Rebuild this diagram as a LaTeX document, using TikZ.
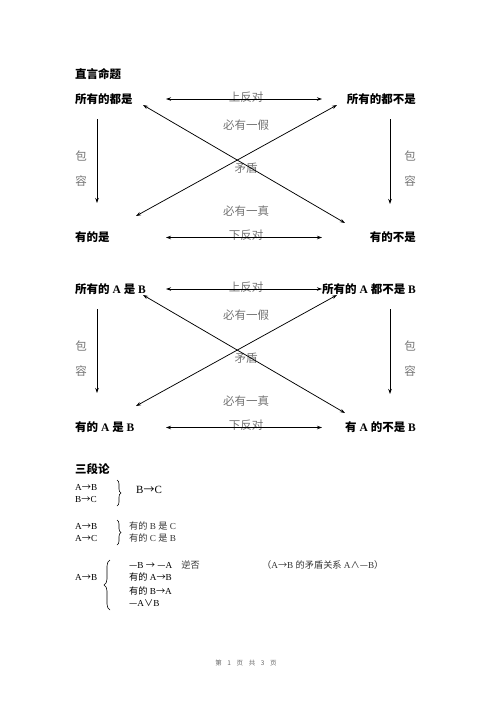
\documentclass[tikz,border=0pt]{standalone}
\usepackage{fontspec}
\setmainfont{Liberation Serif}
\newfontfamily\cjk{Noto Sans CJK SC}
\newcommand\zh[1]{{\cjk #1}}
\usetikzlibrary{arrows.meta,decorations.pathreplacing}

\begin{document}
\begin{tikzpicture} [x=1pt,y=-1pt,
    lbl/.style={font=\fontsize{11.5}{12}\selectfont\bfseries,inner sep=0},
    rel/.style={font=\cjk\fontsize{11.5}{12}\selectfont,text=black!55,inner sep=0},
    dbl/.style={{Stealth[length=5pt,width=3.5pt]}-{Stealth[length=5pt,width=3.5pt]},line width=0.75pt},
    incl/.style={-{Stealth[length=5pt,width=3.5pt]},line width=0.75pt},
    syl/.style={font=\fontsize{9.2}{11}\selectfont,inner sep=0,anchor=west},
    brc/.style={decorate,decoration={brace,amplitude=4pt},line width=0.6pt}]
    \useasboundingbox (0,0) rectangle (496,702);
    \node[lbl,anchor=west] (title1) at (75,74) {\zh{直言命题}};
    \foreach \r/\tl/\tr/\bl/\br in {99/{\zh{所有的都是}}/{\zh{所有的都不是}}/{\zh{有的是}}/{\zh{有的不是}},
        289/{\zh{所有的} A \zh{是} B}/{\zh{所有的} A \zh{都不是} B}/{\zh{有的} A \zh{是} B}/{\zh{有} A \zh{的不是} B}}{%
        \node[lbl,anchor=west] (tl\r) at (75,\r) {\tl};
        \node[lbl,anchor=east] (tr\r) at (416,\r) {\tr};
        \node[lbl,anchor=west] (bl\r) at (75,\r+138.5) {\bl};
        \node[lbl,anchor=east] (br\r) at (416,\r+138.5) {\br};
        \node[rel] (up\r) at (246,\r-2) {上反对};
        \node[rel] (f\r) at (246,\r+26) {必有一假};
        \node[rel] (m\r) at (246,\r+69) {矛盾};
        \node[rel] (t\r) at (246,\r+112) {必有一真};
        \node[rel] (lo\r) at (246,\r+136.5) {下反对};
        \node[rel] (bao\r) at (81,\r+57) {包};
        \node[rel] (rong\r) at (81,\r+82) {容};
        \node[rel] (baor\r) at (410,\r+57) {包};
        \node[rel] (rongr\r) at (410,\r+82) {容};
        \coordinate (a1) at (166,\r);  \coordinate (a2) at (322,\r);
        \coordinate (b1) at (166,\r+138.5);  \coordinate (b2) at (322,\r+138.5);
        \coordinate (d1) at (143,\r+6);  \coordinate (d2) at (345,\r+124);
        \coordinate (d3) at (337,\r+6);  \coordinate (d4) at (136,\r+117);
        \coordinate (v1) at (97,\r+20);  \coordinate (v2) at (97,\r+104);
        \coordinate (v3) at (390,\r+20);  \coordinate (v4) at (390,\r+105);
        \draw[dbl] (a1) -- (a2);
        \draw[dbl] (b1) -- (b2);
        \draw[dbl] (d1) -- (d2);
        \draw[dbl] (d3) -- (d4);
        \draw[incl] (v1) -- (v2);
        \draw[incl] (v3) -- (v4);}

    \node[lbl,anchor=west] (title2) at (75,469) {\zh{三段论}};
    \node[syl] (p1) at (75,487) {A\zh{→}B};
    \node[syl] (p2) at (75,499) {B\zh{→}C};
    \node[syl,font=\fontsize{11}{12}\selectfont] (c1) at (136,490) {B\zh{→}C};
    \coordinate (k1) at (117,480);  \coordinate (k2) at (117,506);
    \draw[brc] (k1) -- (k2);
    \node[syl] (p3) at (75,526) {A\zh{→}B};
    \node[syl] (p4) at (75,538) {A\zh{→}C};
    \node[syl,text=black!80] (c2) at (129,526) {\zh{有的} B \zh{是} C};
    \node[syl,text=black!80] (c3) at (129,538) {\zh{有的} C \zh{是} B};
    \coordinate (k3) at (117,520);  \coordinate (k4) at (117,545);
    \draw[brc] (k3) -- (k4);
    \node[syl] (p5) at (75,577) {A\zh{→}B};
    \coordinate (k5) at (110,610);  \coordinate (k6) at (110,560);
    \draw[brc,decoration={amplitude=6pt}] (k5) -- (k6);
    \node[syl] (s1) at (129,565) {\zh{—}B \zh{→} \zh{—}A\quad\zh{\color{black!80}逆否}};
    \node[syl,text=black!80] (s0) at (262,565) {\zh{（}A\zh{→}B \zh{的矛盾关系} A\zh{∧—}B\zh{）}};
    \node[syl] (s2) at (129,577) {\zh{有的} A\zh{→}B};
    \node[syl] (s3) at (129,591) {\zh{有的} B\zh{→}A};
    \node[syl] (s4) at (129,603) {\zh{—}A\zh{∨}B};
    \node[font=\cjk\fontsize{6.5}{7}\selectfont,text=black!60,inner sep=0] (foot) at (246,663)
        {第\hspace{5.6pt}1\hspace{5.6pt}页\hspace{5.6pt}共\hspace{5.6pt}3\hspace{5.6pt}页};
\end{tikzpicture}
\end{document}
